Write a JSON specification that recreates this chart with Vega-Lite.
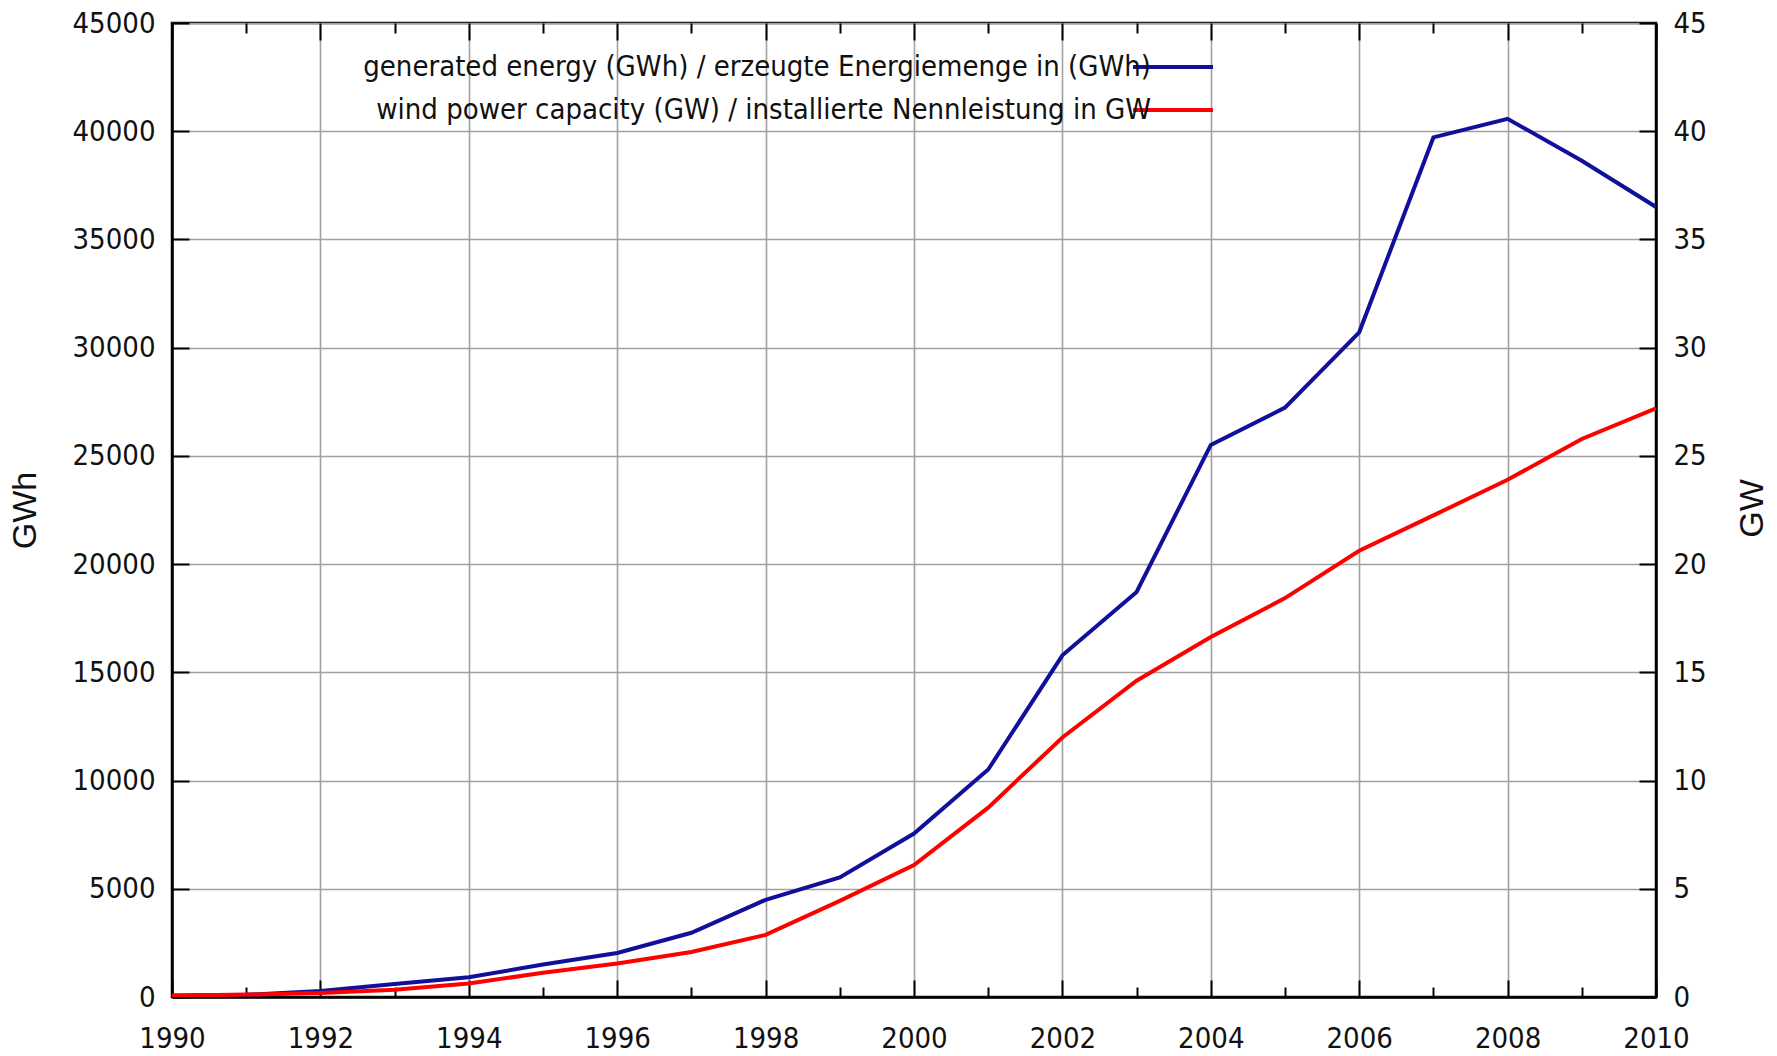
{
  "$schema": "https://vega.github.io/schema/vega-lite/v6.json",
  "width": 1484,
  "height": 974,
  "autosize": {"type": "none"},
  "padding": {"left": 172, "top": 23, "right": 121, "bottom": 59},
  "background": "white",
  "config": {
    "view": {"stroke": "#000000", "strokeWidth": 2.5},
    "axis": {
      "labelFont": "Liberation Sans Narrow, DejaVu Sans Condensed, sans-serif",
      "labelFontSize": 29,
      "labelColor": "#111111",
      "titleFont": "Liberation Sans, Arial, sans-serif",
      "titleFontSize": 34,
      "titleFontWeight": "normal",
      "titleColor": "#111111",
      "domainColor": "#000000",
      "domainWidth": 2.5,
      "tickColor": "#000000",
      "tickWidth": 2,
      "gridColor": "#a0a0a0",
      "gridWidth": 1.6,
      "gridOpacity": 1
    },
    "legend": {
      "labelFont": "Liberation Sans Narrow, DejaVu Sans Condensed, sans-serif",
      "labelFontSize": 29,
      "labelColor": "#111111",
      "labelLimit": 2000
    }
  },
  "data": {
    "values": [
      {"year": 1990, "series": "generated energy (GWh) / erzeugte Energiemenge in (GWh)", "value": 71},
      {"year": 1991, "series": "generated energy (GWh) / erzeugte Energiemenge in (GWh)", "value": 100},
      {"year": 1992, "series": "generated energy (GWh) / erzeugte Energiemenge in (GWh)", "value": 275},
      {"year": 1993, "series": "generated energy (GWh) / erzeugte Energiemenge in (GWh)", "value": 600},
      {"year": 1994, "series": "generated energy (GWh) / erzeugte Energiemenge in (GWh)", "value": 909},
      {"year": 1995, "series": "generated energy (GWh) / erzeugte Energiemenge in (GWh)", "value": 1500},
      {"year": 1996, "series": "generated energy (GWh) / erzeugte Energiemenge in (GWh)", "value": 2032},
      {"year": 1997, "series": "generated energy (GWh) / erzeugte Energiemenge in (GWh)", "value": 2966},
      {"year": 1998, "series": "generated energy (GWh) / erzeugte Energiemenge in (GWh)", "value": 4489},
      {"year": 1999, "series": "generated energy (GWh) / erzeugte Energiemenge in (GWh)", "value": 5528},
      {"year": 2000, "series": "generated energy (GWh) / erzeugte Energiemenge in (GWh)", "value": 7550},
      {"year": 2001, "series": "generated energy (GWh) / erzeugte Energiemenge in (GWh)", "value": 10509},
      {"year": 2002, "series": "generated energy (GWh) / erzeugte Energiemenge in (GWh)", "value": 15786},
      {"year": 2003, "series": "generated energy (GWh) / erzeugte Energiemenge in (GWh)", "value": 18713},
      {"year": 2004, "series": "generated energy (GWh) / erzeugte Energiemenge in (GWh)", "value": 25509},
      {"year": 2005, "series": "generated energy (GWh) / erzeugte Energiemenge in (GWh)", "value": 27229},
      {"year": 2006, "series": "generated energy (GWh) / erzeugte Energiemenge in (GWh)", "value": 30710},
      {"year": 2007, "series": "generated energy (GWh) / erzeugte Energiemenge in (GWh)", "value": 39713},
      {"year": 2008, "series": "generated energy (GWh) / erzeugte Energiemenge in (GWh)", "value": 40574},
      {"year": 2009, "series": "generated energy (GWh) / erzeugte Energiemenge in (GWh)", "value": 38639},
      {"year": 2010, "series": "generated energy (GWh) / erzeugte Energiemenge in (GWh)", "value": 36500},
      {"year": 1990, "series": "wind power capacity (GW) / installierte Nennleistung in GW", "value": 0.06},
      {"year": 1991, "series": "wind power capacity (GW) / installierte Nennleistung in GW", "value": 0.11},
      {"year": 1992, "series": "wind power capacity (GW) / installierte Nennleistung in GW", "value": 0.18},
      {"year": 1993, "series": "wind power capacity (GW) / installierte Nennleistung in GW", "value": 0.33},
      {"year": 1994, "series": "wind power capacity (GW) / installierte Nennleistung in GW", "value": 0.62},
      {"year": 1995, "series": "wind power capacity (GW) / installierte Nennleistung in GW", "value": 1.12},
      {"year": 1996, "series": "wind power capacity (GW) / installierte Nennleistung in GW", "value": 1.55},
      {"year": 1997, "series": "wind power capacity (GW) / installierte Nennleistung in GW", "value": 2.08},
      {"year": 1998, "series": "wind power capacity (GW) / installierte Nennleistung in GW", "value": 2.87},
      {"year": 1999, "series": "wind power capacity (GW) / installierte Nennleistung in GW", "value": 4.44},
      {"year": 2000, "series": "wind power capacity (GW) / installierte Nennleistung in GW", "value": 6.10},
      {"year": 2001, "series": "wind power capacity (GW) / installierte Nennleistung in GW", "value": 8.75},
      {"year": 2002, "series": "wind power capacity (GW) / installierte Nennleistung in GW", "value": 11.99},
      {"year": 2003, "series": "wind power capacity (GW) / installierte Nennleistung in GW", "value": 14.61},
      {"year": 2004, "series": "wind power capacity (GW) / installierte Nennleistung in GW", "value": 16.63},
      {"year": 2005, "series": "wind power capacity (GW) / installierte Nennleistung in GW", "value": 18.43},
      {"year": 2006, "series": "wind power capacity (GW) / installierte Nennleistung in GW", "value": 20.62},
      {"year": 2007, "series": "wind power capacity (GW) / installierte Nennleistung in GW", "value": 22.25},
      {"year": 2008, "series": "wind power capacity (GW) / installierte Nennleistung in GW", "value": 23.90},
      {"year": 2009, "series": "wind power capacity (GW) / installierte Nennleistung in GW", "value": 25.78},
      {"year": 2010, "series": "wind power capacity (GW) / installierte Nennleistung in GW", "value": 27.20}
    ]
  },
  "layer": [
    {
      "transform": [{"filter": "datum.series == 'generated energy (GWh) / erzeugte Energiemenge in (GWh)'"}],
      "mark": {"type": "line", "strokeWidth": 4, "clip": true},
      "encoding": {
        "x": {
          "field": "year", "type": "quantitative",
          "scale": {"domain": [1990, 2010], "nice": false, "zero": false},
          "axis": {
            "orient": "bottom", "title": null, "format": "d",
            "values": [1990,1991,1992,1993,1994,1995,1996,1997,1998,1999,2000,2001,2002,2003,2004,2005,2006,2007,2008,2009,2010],
            "labelExpr": "datum.value % 2 == 0 ? datum.label : ''",
            "tickSize": {"condition": {"test": "datum.value % 2 == 0", "value": -17}, "value": -10},
            "gridOpacity": {"condition": {"test": "datum.value % 2 == 0 && datum.value > 1990 && datum.value < 2010", "value": 1}, "value": 0},
            "labelPadding": 44,
            "labelFlush": false,
            "labelOverlap": false
          }
        },
        "y": {
          "field": "value", "type": "quantitative",
          "scale": {"domain": [0, 45000], "nice": false, "zero": true},
          "axis": {
            "orient": "left", "title": "GWh", "format": "d",
            "values": [0,5000,10000,15000,20000,25000,30000,35000,40000,45000],
            "tickSize": -17,
            "labelPadding": 34,
            "labelFlush": false,
            "labelOverlap": false,
            "titleAngle": -90,
            "titleBaseline": "middle",
            "titleAlign": "center",
            "titleX": -147,
            "titleY": 487
          }
        },
        "color": {
          "field": "series", "type": "nominal",
          "scale": {
            "domain": ["generated energy (GWh) / erzeugte Energiemenge in (GWh)", "wind power capacity (GW) / installierte Nennleistung in GW"],
            "range": ["#10109a", "#ff0000"]
          },
          "legend": {
            "orient": "none",
            "legendX": 979,
            "legendY": 22,
            "title": null,
            "padding": 0,
            "symbolType": "M-2,0H2",
            "symbolSize": 1600,
            "symbolStrokeWidth": 4,
            "labelAlign": "right",
            "labelOffset": -44,
            "rowPadding": 6
          }
        }
      }
    },
    {
      "transform": [{"filter": "datum.series == 'wind power capacity (GW) / installierte Nennleistung in GW'"}],
      "mark": {"type": "line", "strokeWidth": 4, "clip": true},
      "encoding": {
        "x": {
          "field": "year", "type": "quantitative",
          "scale": {"domain": [1990, 2010], "nice": false, "zero": false},
          "axis": {
            "orient": "top", "title": null, "labels": false, "grid": false, "domain": false,
            "values": [1990,1991,1992,1993,1994,1995,1996,1997,1998,1999,2000,2001,2002,2003,2004,2005,2006,2007,2008,2009,2010],
            "tickSize": {"condition": {"test": "datum.value % 2 == 0", "value": -17}, "value": -10}
          }
        },
        "y": {
          "field": "value", "type": "quantitative",
          "scale": {"domain": [0, 45], "nice": false, "zero": true},
          "axis": {
            "orient": "right", "title": "GW", "grid": false,
            "values": [0,5,10,15,20,25,30,35,40,45],
            "tickSize": -17,
            "labelPadding": 34,
            "labelFlush": false,
            "labelOverlap": false,
            "titleAngle": -90,
            "titleBaseline": "middle",
            "titleAlign": "center",
            "titleX": 96,
            "titleY": 485
          }
        },
        "color": {"field": "series", "type": "nominal"}
      }
    }
  ],
  "resolve": {"scale": {"y": "independent"}, "axis": {"x": "independent", "y": "independent"}}
}
